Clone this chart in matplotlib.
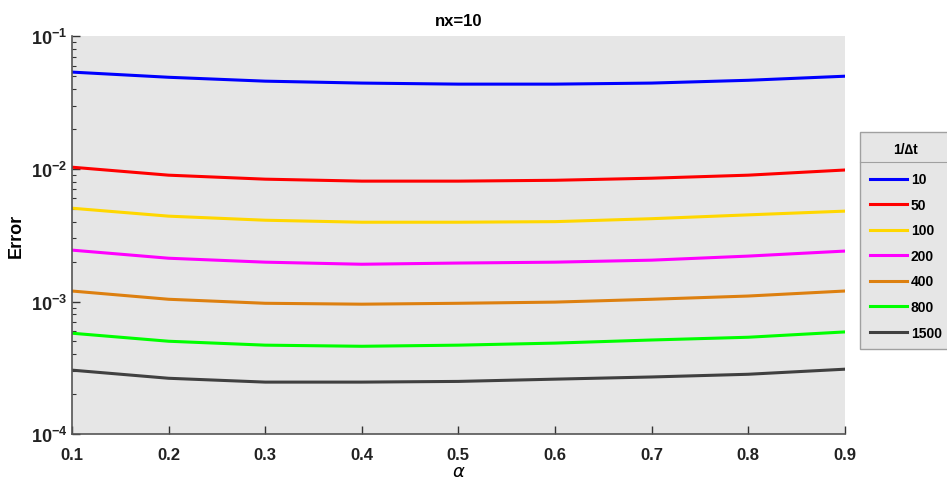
import matplotlib
matplotlib.use("Agg")
import matplotlib.pyplot as plt
from matplotlib.lines import Line2D
from matplotlib.ticker import FixedLocator, LogLocator, NullFormatter
import numpy as np

plt.rcParams['font.family'] = ['Liberation Sans', 'DejaVu Sans']
plt.rcParams['mathtext.fontset'] = 'custom'
plt.rcParams['mathtext.rm'] = 'Liberation Sans:bold'
plt.rcParams['mathtext.bf'] = 'Liberation Sans:bold'

# data
alpha = [0.1, 0.2, 0.3, 0.4, 0.5, 0.6, 0.7, 0.8, 0.9]
err_10 = [0.0536, 0.0490, 0.0458, 0.0443, 0.0435, 0.0435, 0.0443, 0.0465, 0.0499]
err_50 = [0.01029, 0.00896, 0.00836, 0.00808, 0.00808, 0.0082, 0.0085, 0.00896, 0.0098]
err_100 = [0.00505, 0.0044, 0.0041, 0.00396, 0.00396, 0.0040, 0.00421, 0.0045, 0.0048]
err_200 = [0.00244, 0.00212, 0.00198, 0.00191, 0.00195, 0.00198, 0.00205, 0.0022, 0.0024]
err_400 = [0.0012, 0.00104, 0.00097, 0.000955, 0.00097, 0.00099, 0.00104, 0.0011, 0.0012]
err_800 = [0.000577, 0.000502, 0.000469, 0.00046, 0.000469, 0.000486, 0.000513, 0.000538, 0.00059]
err_1500 = [0.000304, 0.000264, 0.000247, 0.000247, 0.00025, 0.00026, 0.00027, 0.000283, 0.000309]
labels = ['10', '50', '100', '200', '400', '800', '1500']
colors = ['#0000ff', '#ff0000', '#ffd700', '#ff00ff', '#dd8010', '#00ff00', '#404040']
series = [err_10, err_50, err_100, err_200, err_400, err_800, err_1500]

fig = plt.figure(figsize=(9.47, 4.89), dpi=100)
ax = fig.add_axes([0.076, 0.110, 0.816, 0.814])
ax.set_facecolor('#e6e6e6')

for ys, c, lab in zip(series, colors, labels):
    ax.plot(alpha, ys, color=c, linewidth=2.2, label=lab)

ax.set_yscale('log')
ax.set_xlim(0.1, 0.9)
ax.set_ylim(1e-4, 1e-1)
ax.xaxis.set_major_locator(FixedLocator(alpha))
ax.set_xticklabels(['%.1f' % a for a in alpha])
ax.yaxis.set_major_locator(FixedLocator([1e-4, 1e-3, 1e-2, 1e-1]))
ax.set_yticklabels([r'$10^{-4}$', r'$10^{-3}$', r'$10^{-2}$', r'$10^{-1}$'])
ax.yaxis.set_minor_locator(LogLocator(base=10, subs=np.arange(2, 10)))
ax.yaxis.set_minor_formatter(NullFormatter())

for s in ['top', 'right']:
    ax.spines[s].set_visible(False)
for s in ['left', 'bottom']:
    ax.spines[s].set_color('#555555')
    ax.spines[s].set_linewidth(1.2)
ax.tick_params(axis='both', which='major', direction='in', length=6, width=1,
               color='#333333', labelsize=12, labelcolor='#222222')
ax.tick_params(axis='y', which='major', labelsize=13)
ax.tick_params(axis='y', which='minor', direction='in', length=3, width=0.8, color='#333333')
ax.tick_params(axis='x', pad=9)
for t in ax.get_xticklabels():
    t.set_fontweight('bold')

ax.set_title('nx=10', fontsize=12, fontweight='bold', pad=8)
ax.set_ylabel('Error', fontsize=13, fontweight='bold', labelpad=4)
ax.set_xlabel(r'$\alpha$', fontsize=13, family='DejaVu Serif', labelpad=0)

# legend box placed where the reference has it
leg = ax.legend(title='1/\u2206t', loc='upper left',
                bbox_to_anchor=(860 / 947, 1 - 133 / 489), bbox_transform=fig.transFigure,
                frameon=True, fancybox=False, facecolor='#e6e6e6', edgecolor='#a0a0a0',
                framealpha=1, fontsize=10, handlelength=2.65, handletextpad=0.3,
                labelspacing=0.83, borderpad=0.7, borderaxespad=0, title_fontsize=10)
leg.get_title().set_fontweight('bold')
leg._legend_box.sep = 12
for t in leg.get_texts():
    t.set_fontweight('bold')

fig.canvas.draw()
bb = leg.get_window_extent()
tb = leg.get_title().get_window_extent()
ysep = (tb.y0 - 6) / fig.bbox.height
fig.add_artist(Line2D([bb.x0 / fig.bbox.width, bb.x1 / fig.bbox.width], [ysep, ysep],
                      color='#a0a0a0', linewidth=0.8, transform=fig.transFigure))

fig.savefig('out.png', dpi=100)
